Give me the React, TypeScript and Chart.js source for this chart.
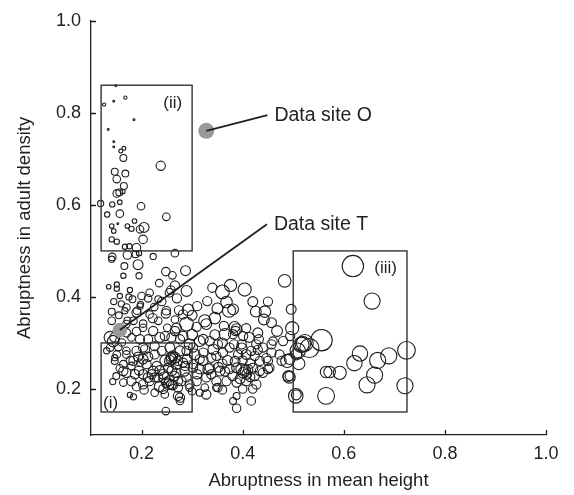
import React, { useEffect, useRef } from "react";
import { Chart, registerables } from "chart.js";

Chart.register(...registerables);

// Axis ranges and ticks
const axisMin = 0.1;
const axisMax = 1.0;
const xTicks = [0.2, 0.4, 0.6, 0.8, 1.0];
const yTicks = [0.2, 0.4, 0.6, 0.8, 1.0];

const xTitle = "Abruptness in mean height";
const yTitle = "Abruptness in adult density";

// Sites as [mean-height abruptness, adult-density abruptness, bubble size]
type Site = [number, number, number];

const boxTwoSites: Site[] = [
  [0.149, 0.859, 0.8], [0.126, 0.818, 1.4], [0.145, 0.825, 0.8], [0.168, 0.833, 1.4],
  [0.185, 0.785, 0.8], [0.134, 0.764, 0.8], [0.145, 0.737, 0.8], [0.145, 0.726, 0.8],
  [0.159, 0.717, 1.7], [0.165, 0.723, 1.7], [0.164, 0.702, 3], [0.238, 0.685, 4],
  [0.147, 0.672, 3], [0.168, 0.668, 3], [0.151, 0.656, 3.3], [0.165, 0.641, 3],
  [0.151, 0.625, 3.3], [0.156, 0.627, 3], [0.163, 0.629, 2], [0.119, 0.603, 2.7],
  [0.142, 0.601, 2.3], [0.157, 0.606, 2], [0.199, 0.597, 3.3], [0.132, 0.579, 2.3],
  [0.157, 0.581, 3.3], [0.249, 0.574, 3.3], [0.141, 0.554, 2], [0.153, 0.559, 0.8],
  [0.172, 0.554, 2], [0.18, 0.548, 2.3], [0.186, 0.565, 2], [0.197, 0.547, 3.3],
  [0.205, 0.551, 4.3], [0.145, 0.543, 2], [0.141, 0.525, 2.3], [0.151, 0.52, 2.3],
  [0.203, 0.525, 3.7], [0.167, 0.509, 2.3], [0.176, 0.51, 2.3], [0.19, 0.507, 3.7],
];

const upperSites: Site[] = [
  [0.172, 0.491, 3.7], [0.188, 0.493, 3], [0.195, 0.495, 2.3], [0.142, 0.487, 3.3],
  [0.223, 0.488, 2.7], [0.266, 0.495, 3.3], [0.141, 0.482, 2.7], [0.166, 0.467, 3],
  [0.193, 0.47, 4.3], [0.164, 0.446, 2.3], [0.195, 0.446, 2.7], [0.248, 0.455, 3.7],
  [0.261, 0.447, 3.3], [0.287, 0.457, 4.3], [0.135, 0.422, 2], [0.151, 0.427, 2.3],
  [0.151, 0.418, 2.3], [0.177, 0.415, 2.3], [0.266, 0.425, 4], [0.258, 0.415, 3.7],
  [0.157, 0.402, 2.3], [0.213, 0.397, 3.3], [0.483, 0.435, 5.5], [0.376, 0.425, 5.3],
  [0.404, 0.416, 5.7], [0.36, 0.411, 6], [0.368, 0.389, 5], [0.33, 0.391, 4],
  [0.255, 0.409, 3.7], [0.27, 0.397, 4], [0.182, 0.395, 3], [0.198, 0.384, 2.7],
  [0.225, 0.378, 3.3], [0.274, 0.371, 4], [0.292, 0.372, 5], [0.373, 0.37, 5.7],
  [0.381, 0.373, 4.7], [0.426, 0.368, 4.7], [0.444, 0.368, 5], [0.496, 0.373, 4.3],
  [0.141, 0.368, 3], [0.167, 0.37, 2.7], [0.191, 0.37, 3.3], [0.2, 0.402, 3.3],
  [0.216, 0.409, 3.3], [0.233, 0.395, 3], [0.289, 0.413, 4.7], [0.17, 0.377, 3.3],
  [0.19, 0.366, 4], [0.197, 0.38, 2.7], [0.216, 0.362, 3.3], [0.249, 0.37, 3.7],
  [0.282, 0.362, 4], [0.155, 0.36, 3], [0.16, 0.385, 2.7], [0.175, 0.4, 2.7],
  [0.145, 0.39, 2.7], [0.24, 0.39, 3.7], [0.235, 0.43, 3.3], [0.3, 0.36, 4.3],
  [0.31, 0.38, 4], [0.35, 0.375, 4.7], [0.34, 0.42, 4], [0.42, 0.39, 4.3],
  [0.45, 0.39, 4],
];

const middleSites: Site[] = [
  [0.442, 0.351, 4.7], [0.457, 0.344, 4.3], [0.222, 0.354, 4], [0.248, 0.364, 4],
  [0.233, 0.348, 3.3], [0.184, 0.348, 3.3], [0.203, 0.342, 3.3], [0.141, 0.348, 3.3],
  [0.172, 0.349, 3], [0.289, 0.341, 6], [0.325, 0.348, 5.3], [0.345, 0.354, 5],
  [0.309, 0.335, 4], [0.269, 0.332, 4.3], [0.251, 0.333, 3.3], [0.384, 0.335, 4.7],
  [0.386, 0.326, 4], [0.407, 0.332, 4], [0.363, 0.337, 4], [0.365, 0.319, 5],
  [0.413, 0.312, 4.3], [0.43, 0.322, 4.3], [0.468, 0.326, 4.7], [0.498, 0.332, 5.7],
  [0.494, 0.315, 4], [0.519, 0.297, 6.7], [0.473, 0.275, 4], [0.457, 0.279, 4],
  [0.447, 0.267, 4], [0.48, 0.304, 4], [0.46, 0.304, 3.7], [0.44, 0.29, 4],
  [0.427, 0.297, 4], [0.398, 0.297, 4], [0.383, 0.297, 4], [0.351, 0.297, 4],
  [0.335, 0.304, 4], [0.315, 0.304, 4.7], [0.295, 0.297, 4.7], [0.276, 0.308, 4],
  [0.259, 0.312, 4], [0.236, 0.312, 4.3], [0.213, 0.308, 4], [0.197, 0.308, 4],
  [0.18, 0.312, 3.3], [0.161, 0.301, 3.3], [0.147, 0.312, 4.3], [0.138, 0.29, 3.3],
  [0.154, 0.291, 3.3], [0.138, 0.312, 5.3], [0.144, 0.304, 5], [0.328, 0.341, 4.7],
  [0.322, 0.308, 4.3], [0.388, 0.33, 4.7], [0.381, 0.319, 4], [0.401, 0.315, 4],
  [0.432, 0.308, 4], [0.417, 0.283, 4], [0.457, 0.297, 4], [0.493, 0.265, 4.7],
  [0.17, 0.341, 3.3], [0.203, 0.333, 3.3], [0.223, 0.326, 4], [0.246, 0.315, 4],
  [0.266, 0.326, 4], [0.282, 0.315, 4.3], [0.266, 0.351, 3.3], [0.131, 0.283, 2.7],
  [0.151, 0.275, 3.3], [0.17, 0.283, 3.3], [0.203, 0.29, 4], [0.226, 0.293, 4],
  [0.256, 0.29, 4.3], [0.276, 0.283, 4.3], [0.302, 0.29, 4], [0.43, 0.285, 4],
  [0.398, 0.288, 4.7], [0.36, 0.3, 4.3], [0.345, 0.318, 4.3], [0.3, 0.318, 4.7],
  [0.158, 0.33, 3.3], [0.17, 0.322, 3.7], [0.19, 0.325, 3.7],
];

const lowerSites: Site[] = [
  [0.147, 0.268, 2.7], [0.17, 0.275, 3.3], [0.19, 0.283, 4], [0.207, 0.286, 4],
  [0.226, 0.275, 4], [0.24, 0.283, 4], [0.259, 0.265, 4.7], [0.262, 0.272, 4.3],
  [0.272, 0.261, 4], [0.289, 0.283, 4], [0.305, 0.275, 4.7], [0.322, 0.279, 4],
  [0.342, 0.286, 4.7], [0.348, 0.272, 4], [0.361, 0.279, 4], [0.374, 0.29, 4],
  [0.391, 0.275, 4], [0.407, 0.275, 4.3], [0.424, 0.272, 4], [0.434, 0.261, 4],
  [0.164, 0.254, 3.3], [0.18, 0.25, 3.3], [0.197, 0.257, 3.3], [0.21, 0.254, 4],
  [0.23, 0.25, 4], [0.253, 0.246, 4.3], [0.269, 0.254, 4.7], [0.286, 0.25, 4],
  [0.302, 0.254, 4], [0.315, 0.243, 4], [0.332, 0.243, 4.7], [0.338, 0.232, 4],
  [0.355, 0.239, 4.3], [0.374, 0.243, 4], [0.388, 0.246, 4.3], [0.401, 0.235, 4.7],
  [0.411, 0.243, 4], [0.424, 0.228, 4], [0.44, 0.235, 4], [0.453, 0.246, 4],
  [0.45, 0.261, 4], [0.407, 0.217, 4], [0.388, 0.214, 4], [0.368, 0.217, 4],
  [0.348, 0.217, 4], [0.328, 0.225, 4], [0.309, 0.217, 4], [0.289, 0.225, 4],
  [0.272, 0.217, 4], [0.253, 0.21, 4.7], [0.249, 0.214, 4.3], [0.233, 0.225, 4],
  [0.216, 0.217, 4], [0.203, 0.232, 4], [0.187, 0.232, 4], [0.17, 0.235, 4],
  [0.164, 0.214, 3.3], [0.143, 0.216, 2.7], [0.203, 0.21, 4], [0.226, 0.192, 3.3],
  [0.272, 0.203, 4], [0.276, 0.181, 4], [0.177, 0.187, 2.3], [0.184, 0.183, 2.7],
  [0.248, 0.152, 3.3], [0.381, 0.174, 3], [0.388, 0.158, 3.7], [0.388, 0.185, 3],
  [0.417, 0.174, 3.7], [0.348, 0.203, 3.3], [0.325, 0.203, 3.3], [0.427, 0.21, 4],
  [0.295, 0.203, 3.3], [0.315, 0.192, 3], [0.147, 0.261, 3], [0.184, 0.261, 4],
  [0.203, 0.265, 4.3], [0.256, 0.261, 4.7], [0.266, 0.268, 4.7], [0.282, 0.257, 4],
  [0.164, 0.239, 4], [0.223, 0.239, 4.3], [0.243, 0.232, 4.3], [0.269, 0.235, 4],
  [0.302, 0.246, 4], [0.18, 0.217, 4], [0.226, 0.225, 4], [0.259, 0.21, 4.3],
  [0.279, 0.217, 4], [0.295, 0.21, 4], [0.246, 0.188, 3.3], [0.272, 0.185, 4],
  [0.276, 0.174, 3.3], [0.45, 0.243, 4], [0.434, 0.239, 4], [0.477, 0.261, 4],
  [0.49, 0.228, 4.7], [0.328, 0.188, 4], [0.351, 0.203, 3.7], [0.335, 0.246, 4],
  [0.398, 0.243, 5], [0.405, 0.24, 4.7], [0.488, 0.261, 5.7], [0.492, 0.226, 5.3],
  [0.255, 0.218, 4.3], [0.262, 0.208, 4], [0.247, 0.262, 4.7], [0.258, 0.27, 4],
  [0.352, 0.247, 4.3], [0.365, 0.238, 4], [0.408, 0.232, 4.3], [0.415, 0.226, 4],
  [0.213, 0.225, 4.3], [0.22, 0.232, 4], [0.195, 0.24, 4], [0.506, 0.187, 4.3],
  [0.493, 0.228, 4], [0.506, 0.275, 4.7], [0.235, 0.205, 4.3], [0.243, 0.2, 4],
  [0.265, 0.228, 4.3], [0.285, 0.238, 4], [0.31, 0.232, 4], [0.322, 0.262, 4.3],
  [0.338, 0.268, 4], [0.37, 0.262, 4.3], [0.38, 0.228, 4], [0.395, 0.222, 4.3],
  [0.42, 0.245, 4.3], [0.213, 0.27, 4], [0.193, 0.27, 4], [0.178, 0.262, 3.7],
  [0.157, 0.245, 3.3], [0.15, 0.228, 3], [0.19, 0.205, 3.7], [0.205, 0.198, 3.7],
  [0.236, 0.24, 4.3], [0.245, 0.225, 4.7], [0.26, 0.24, 4.3], [0.29, 0.265, 4.3],
  [0.315, 0.265, 4], [0.36, 0.255, 4], [0.385, 0.26, 4.3], [0.4, 0.262, 4],
  [0.415, 0.255, 4], [0.42, 0.2, 3.7], [0.4, 0.2, 3.7], [0.36, 0.198, 3.7],
  [0.3, 0.195, 3.3],
];

const boxThreeSites: Site[] = [
  [0.618, 0.467, 9.3], [0.656, 0.391, 7], [0.556, 0.306, 9.3], [0.532, 0.289, 8.3],
  [0.523, 0.3, 7.3], [0.516, 0.296, 6.7], [0.509, 0.283, 6.7], [0.511, 0.255, 5.3],
  [0.505, 0.185, 6.3], [0.565, 0.185, 7.3], [0.565, 0.237, 5], [0.572, 0.237, 5],
  [0.592, 0.235, 5.7], [0.621, 0.256, 6.7], [0.632, 0.277, 6.7], [0.667, 0.262, 7],
  [0.689, 0.272, 7], [0.661, 0.23, 7], [0.646, 0.209, 7], [0.724, 0.284, 7.7],
  [0.721, 0.207, 7],
];

// Highlighted data sites
const siteO: Site = [0.328, 0.761, 8];
const siteT: Site = [0.157, 0.328, 7.3];

// Regions (i)-(iii): [xFrom, xTo, yFrom, yTo]
const regionI = [0.12, 0.3, 0.15, 0.3];
const regionII = [0.12, 0.3, 0.5, 0.86];
const regionIII = [0.5, 0.725, 0.15, 0.5];

const FONT = "'Liberation Sans', Arial, Helvetica, sans-serif";
const INK = "#231f20";
const RING = "#1e1e1e";
const GREY = "#999999";
// pixel radius per unit of bubble size for the open rings
const RING_SCALE = 1.15;

const toPoints = (list: Site[], k = 1) => list.map(([x, y, r]) => ({ x, y, r: r * k }));

const overlayPlugin = {
  id: "figureOverlay",
  afterDatasetsDraw(chart: any) {
    const { ctx, chartArea } = chart;
    const xs = chart.scales.x;
    const ys = chart.scales.y;
    ctx.save();

    // inward tick marks
    ctx.strokeStyle = INK;
    ctx.lineWidth = 1.3;
    ctx.beginPath();
    xs.ticks.forEach((t: any) => {
      const px = Math.round(xs.getPixelForValue(t.value)) + 0.5;
      ctx.moveTo(px, chartArea.bottom);
      ctx.lineTo(px, chartArea.bottom - 5);
    });
    ys.ticks.forEach((t: any) => {
      const py = Math.round(ys.getPixelForValue(t.value)) + 0.5;
      ctx.moveTo(chartArea.left, py);
      ctx.lineTo(chartArea.left + 5, py);
    });
    ctx.stroke();

    // region rectangles
    const rect = (b: number[]) => ({
      l: xs.getPixelForValue(b[0]),
      r: xs.getPixelForValue(b[1]),
      b: ys.getPixelForValue(b[2]),
      t: ys.getPixelForValue(b[3]),
    });
    const r1 = rect(regionI);
    const r2 = rect(regionII);
    const r3 = rect(regionIII);
    ctx.strokeStyle = "#333333";
    ctx.lineWidth = 1.4;
    [r1, r2, r3].forEach((q) => ctx.strokeRect(q.l, q.t, q.r - q.l, q.b - q.t));

    ctx.fillStyle = INK;
    ctx.font = `17px ${FONT}`;
    ctx.textBaseline = "alphabetic";
    ctx.textAlign = "left";
    ctx.fillText("(i)", r1.l + 2, r1.b - 4);
    ctx.textAlign = "right";
    ctx.fillText("(ii)", r2.r - 10, r2.t + 23);
    ctx.fillText("(iii)", r3.r - 10, r3.t + 22);

    // call-outs for the highlighted sites
    const callout = (s: Site, ex: number, ey: number, text: string) => {
      const sx = xs.getPixelForValue(s[0]);
      const sy = ys.getPixelForValue(s[1]);
      const tx = xs.getPixelForValue(ex);
      const ty = ys.getPixelForValue(ey);
      ctx.strokeStyle = INK;
      ctx.lineWidth = 1.8;
      ctx.beginPath();
      ctx.moveTo(sx, sy);
      ctx.lineTo(tx, ty);
      ctx.stroke();
      ctx.font = `19.5px ${FONT}`;
      ctx.textAlign = "left";
      ctx.textBaseline = "middle";
      ctx.fillText(text, tx + 7, ty);
    };
    callout(siteO, 0.449, 0.795, "Data site O");
    callout(siteT, 0.448, 0.558, "Data site T");

    ctx.restore();
  },
};

export default function App() {
  const canvasRef = useRef<HTMLCanvasElement | null>(null);

  useEffect(() => {
    if (!canvasRef.current) return;
    const cloud = [...boxTwoSites, ...upperSites, ...middleSites, ...lowerSites, ...boxThreeSites];
    const tickFont = { family: FONT, size: 18 };
    const titleFont = { family: FONT, size: 18.5 };

    const chart = new Chart(canvasRef.current, {
      type: "bubble",
      data: {
        datasets: [
          {
            label: "Data sites O and T",
            data: toPoints([siteO, siteT]),
            backgroundColor: GREY,
            borderColor: GREY,
            borderWidth: 0,
          },
          {
            label: "Sites",
            data: toPoints(cloud, RING_SCALE),
            backgroundColor: "rgba(0,0,0,0)",
            borderColor: RING,
            borderWidth: 1.1,
          },
        ],
      },
      options: {
        responsive: false,
        animation: false,
        devicePixelRatio: 1,
        layout: { padding: { top: 20, right: 28, left: 0, bottom: 0 } },
        plugins: { legend: { display: false }, tooltip: { enabled: false } },
        events: [],
        scales: {
          x: {
            type: "linear",
            min: axisMin,
            max: axisMax,
            afterBuildTicks: (s: any) => {
              s.ticks = xTicks.map((v) => ({ value: v }));
            },
            afterFit: (s: any) => {
              s.height = 60;
            },
            grid: { display: false, drawTicks: false },
            border: { display: true, color: INK, width: 1.3 },
            ticks: {
              font: tickFont,
              color: INK,
              padding: 8,
              maxRotation: 0,
              callback: (v: any) => Number(v).toFixed(1),
            },
            title: {
              display: true,
              text: xTitle,
              font: titleFont,
              color: INK,
              padding: { top: 0, bottom: 3 },
            },
          },
          y: {
            type: "linear",
            min: axisMin,
            max: axisMax,
            afterBuildTicks: (s: any) => {
              s.ticks = yTicks.map((v) => ({ value: v }));
            },
            afterFit: (s: any) => {
              s.width = 91;
            },
            grid: { display: false, drawTicks: false },
            border: { display: true, color: INK, width: 1.3 },
            ticks: {
              font: tickFont,
              color: INK,
              padding: 10,
              callback: (v: any) => Number(v).toFixed(1),
            },
            title: {
              display: true,
              text: yTitle,
              font: titleFont,
              color: INK,
              padding: { top: 14, bottom: 0 },
            },
          },
        },
      },
      plugins: [overlayPlugin],
    });
    return () => chart.destroy();
  }, []);

  return (
    <div style={{ position: "fixed", left: 0, top: 0, width: 574, height: 495, background: "#fff" }}>
      <canvas ref={canvasRef} width={574} height={495} style={{ display: "block" }} />
    </div>
  );
}
